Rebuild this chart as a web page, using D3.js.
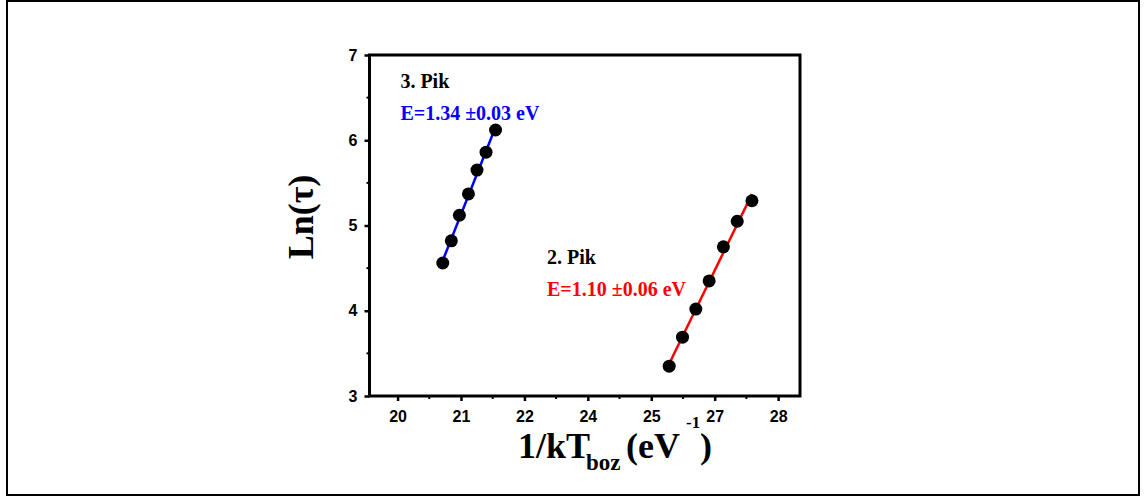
<!DOCTYPE html>
<html><head><meta charset="utf-8">
<script src="https://cdn.jsdelivr.net/npm/d3@7"></script>
<style>body{margin:0;background:#fff}svg{display:block}</style>
</head><body><svg id="c" width="1147" height="499"></svg>
<script>
// ---- data ----
const xTickValues = [20, 21.3333, 22.6667, 24, 25.3333, 26.6667, 28];
const xTickLabels = ["20", "21", "22", "24", "25", "27", "28"];
const yTickValues = [3, 4, 5, 6, 7];
const yTickLabels = ["3", "4", "5", "6", "7"];
const pik3X = [20.95, 21.13, 21.30, 21.49, 21.67, 21.86, 22.06];
const pik3Y = [4.56, 4.82, 5.12, 5.37, 5.65, 5.86, 6.12];
const pik2X = [25.71, 25.99, 26.27, 26.55, 26.85, 27.14, 27.45];
const pik2Y = [3.35, 3.69, 4.02, 4.35, 4.75, 5.05, 5.29];
const seriesNames = ["3. Pik", "2. Pik"];
const energyLabels = ["E=1.34 \u00b10.03 eV", "E=1.10 \u00b10.06 eV"];
const fitColors = ["#0000ff", "#ff0000"];

// ---- layout ----
const W = 1147, H = 499;
const L = 369.5, R = 800, T = 55, B = 396;
const svg = d3.select("#c");

svg.append("rect").attr("x", 7).attr("y", 1).attr("width", 1132).attr("height", 494)
  .attr("fill", "none").attr("stroke", "#000").attr("stroke-width", 2);

const x = d3.scaleLinear().domain([19.41, 28.46]).range([L, R]);
const y = d3.scaleLinear().domain([3, 7]).range([B, T]);

const sans = "'Liberation Sans', Arial, sans-serif";
const serif = "'Liberation Serif', 'Times New Roman', serif";

// axes
const gx = svg.append("g").attr("transform", `translate(0,${B})`)
  .call(d3.axisBottom(x).tickValues(xTickValues).tickFormat((d, i) => xTickLabels[i])
    .tickSizeInner(5).tickSizeOuter(0).tickPadding(10));
const gy = svg.append("g").attr("transform", `translate(${L},0)`)
  .call(d3.axisLeft(y).tickValues(yTickValues).tickFormat((d, i) => yTickLabels[i])
    .tickSizeInner(5).tickSizeOuter(0).tickPadding(7));
[gx, gy].forEach(g => {
  g.select(".domain").remove();
  g.selectAll(".tick line").attr("stroke", "#000").attr("stroke-width", 2.5);
  g.selectAll(".tick text").attr("fill", "#000").style("font-family", sans)
    .style("font-weight", "bold").style("font-size", "16px");
});

// minor ticks
const xMinor = d3.pairs(xTickValues).map(p => (p[0] + p[1]) / 2);
const yMinor = d3.pairs(yTickValues).map(p => (p[0] + p[1]) / 2);
svg.append("g").selectAll("line").data(xMinor).join("line")
  .attr("x1", d => x(d)).attr("x2", d => x(d)).attr("y1", B).attr("y2", B + 3)
  .attr("stroke", "#000").attr("stroke-width", 2);
svg.append("g").selectAll("line").data(yMinor).join("line")
  .attr("y1", d => y(d)).attr("y2", d => y(d)).attr("x1", L).attr("x2", L - 3)
  .attr("stroke", "#000").attr("stroke-width", 2);

// frame
svg.append("rect").attr("x", L).attr("y", T).attr("width", R - L).attr("height", B - T)
  .attr("fill", "none").attr("stroke", "#000").attr("stroke-width", 3);

// fits and points
const series = [[pik3X, pik3Y], [pik2X, pik2Y]];
series.forEach(([xs, ys], k) => {
  const pts = xs.map((v, i) => [v, ys[i]]);
  const mx = d3.mean(xs), my = d3.mean(ys);
  const slope = d3.sum(pts, p => (p[0] - mx) * (p[1] - my)) / d3.sum(pts, p => (p[0] - mx) ** 2);
  const icpt = my - slope * mx;
  const ext = d3.extent(xs);
  svg.append("line")
    .attr("x1", x(ext[0])).attr("y1", y(icpt + slope * ext[0]))
    .attr("x2", x(ext[1])).attr("y2", y(icpt + slope * ext[1]))
    .attr("stroke", fitColors[k]).attr("stroke-width", 2.5);
  svg.append("g").selectAll("circle").data(pts).join("circle")
    .attr("cx", d => x(d[0])).attr("cy", d => y(d[1])).attr("r", 6.5).attr("fill", "#000");
});

// annotations
const annX = [20.06, 23.14];
const annY1 = [6.61, 4.55];
const annY2 = [6.24, 4.17];
series.forEach((s, k) => {
  svg.append("text").attr("x", x(annX[k])).attr("y", y(annY1[k]))
    .style("font-family", serif).style("font-weight", "bold").style("font-size", "20px")
    .attr("fill", "#000").text(seriesNames[k]);
  svg.append("text").attr("x", x(annX[k])).attr("y", y(annY2[k]))
    .style("font-family", serif).style("font-weight", "bold").style("font-size", "20px")
    .attr("fill", fitColors[k]).text(energyLabels[k]);
});

// axis titles
const tb = (t, xx, yy, size) => svg.append("text").attr("x", xx).attr("y", yy)
  .style("font-family", serif).style("font-weight", "bold").style("font-size", size + "px")
  .attr("fill", "#000").text(t);
tb("1/kT", 518, 458, 36);
tb("boz", 586, 470, 23);
tb("(eV", 626, 458, 36);
tb("-1", 686, 428, 17);
tb(")", 700, 458, 36);

svg.append("text").attr("transform", "translate(313,217) rotate(-90)")
  .attr("text-anchor", "middle")
  .style("font-family", serif).style("font-weight", "bold").style("font-size", "36px")
  .attr("fill", "#000").text("Ln(\u03c4)");
</script></body></html>
